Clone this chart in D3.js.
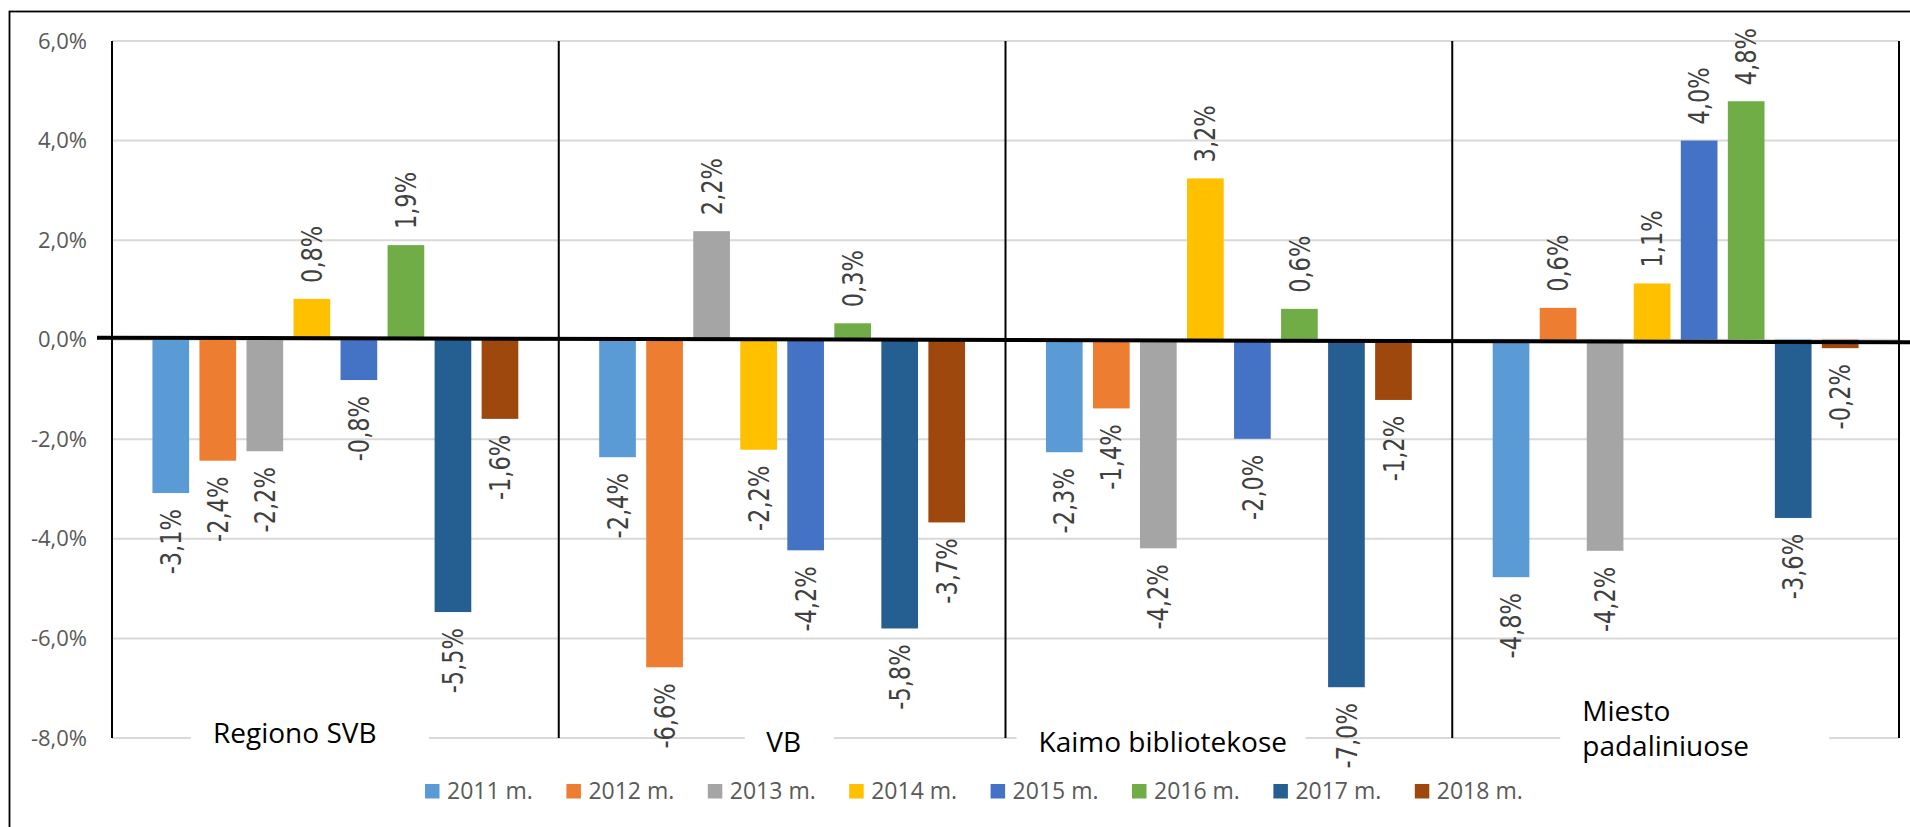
<!DOCTYPE html>
<html>
<head>
<meta charset="utf-8">
<script src="https://cdnjs.cloudflare.com/ajax/libs/d3/7.8.5/d3.min.js"></script>
<style>
  body { margin: 0; background: #fff; }
  svg { display: block; }
</style>
</head>
<body>
<div id="chart"></div>
<script>
// categories (groups on the x axis)
var categories = ["Regiono SVB", "VB", "Kaimo bibliotekose", "Miesto padaliniuose"];
var years = ["2011 m.", "2012 m.", "2013 m.", "2014 m.", "2015 m.", "2016 m.", "2017 m.", "2018 m."];

// one array per year, values in % for each category
var y2011 = [-3.08, -2.36, -2.26, -4.77];
var y2012 = [-2.43, -6.58, -1.38, 0.64];
var y2013 = [-2.24, 2.18, -4.19, -4.24];
var y2014 = [0.82, -2.21, 3.24, 1.13];
var y2015 = [-0.81, -4.23, -1.99, 4.00];
var y2016 = [1.90, 0.33, 0.62, 4.79];
var y2017 = [-5.47, -5.80, -6.98, -3.58];
var y2018 = [-1.59, -3.67, -1.21, -0.17];

var yTicks = [-8, -6, -4, -2, 0, 2, 4, 6];

var seriesValues = [y2011, y2012, y2013, y2014, y2015, y2016, y2017, y2018];
var colors = ["#5B9BD5", "#ED7D31", "#A5A5A5", "#FFC000", "#4472C4", "#70AD47", "#255E91", "#9E480E"];

// hand placed text boxes for the category names (offset from group start)
var catBoxes = [
  {bx: 79, bw: 238, tx: 101, ty: [743]},
  {bx: 186, bw: 89, tx: 207.5, ty: [752]},
  {bx: 11, bw: 289, tx: 33, ty: [752]},
  {bx: 108, bw: 269, tx: 130, ty: [721, 756]}
];

var W = 1910, H = 827;
// NB: "top" is taken by window.top, so prefix everything
var plotL = 112, plotR = 1899, plotT = 41, plotB = 738;

var svg = d3.select("#chart").append("svg")
  .attr("width", W).attr("height", H);

var fmt = function(v) { return v.toFixed(1).replace(".", ",") + "%"; };

var y = d3.scaleLinear().domain([-8, 6]).range([plotB, plotT]);
var x0 = d3.scaleBand().domain(categories).range([plotL, plotR]).padding(0);
var x1 = d3.scaleBand().domain(years).range([0, x0.bandwidth()])
  .paddingInner(0.22).paddingOuter(0.86);

// outer frame
svg.append("rect")
  .attr("x", 9.5).attr("y", 11.5)
  .attr("width", 1940).attr("height", 900)
  .attr("fill", "none").attr("stroke", "#000").attr("stroke-width", 1.8);

// gridlines
svg.append("g").selectAll("line")
  .data(yTicks)
  .enter().append("line")
  .attr("x1", plotL).attr("x2", plotR)
  .attr("y1", function(d) { return y(d); })
  .attr("y2", function(d) { return y(d); })
  .attr("stroke", "#d9d9d9").attr("stroke-width", 2);

// y axis labels
var yAxis = d3.axisLeft(y).tickValues(yTicks).tickSize(0).tickPadding(25).tickFormat(fmt);
var ga = svg.append("g").attr("transform", "translate(" + plotL + ",0)").call(yAxis);
ga.select(".domain").remove();
ga.selectAll("text")
  .attr("font-family", "'Open Sans', sans-serif")
  .attr("font-size", 22)
  .attr("fill", "#595959");

// group separators
svg.append("g").selectAll("line")
  .data(categories.concat(["__end"]))
  .enter().append("line")
  .attr("x1", function(d) { return d == "__end" ? plotR : x0(d); })
  .attr("x2", function(d) { return d == "__end" ? plotR : x0(d); })
  .attr("y1", plotT).attr("y2", plotB)
  .attr("stroke", "#000").attr("stroke-width", 2);

// bars
var rows = [];
categories.forEach(function(c, ci) {
  years.forEach(function(yr, si) {
    rows.push({cat: c, year: yr, si: si, v: seriesValues[si][ci]});
  });
});

var g = svg.append("g");
g.selectAll("rect")
  .data(rows)
  .enter().append("rect")
  .attr("x", function(d) { return x0(d.cat) + x1(d.year); })
  .attr("width", x1.bandwidth())
  .attr("y", function(d) { return y(Math.max(0, d.v)); })
  .attr("height", function(d) { return Math.abs(y(d.v) - y(0)); })
  .attr("fill", function(d) { return colors[d.si]; });

// rotated value labels
g.selectAll("text")
  .data(rows)
  .enter().append("text")
  .attr("transform", function(d) {
    var cx = x0(d.cat) + x1(d.year) + x1.bandwidth() / 2;
    var yy = d.v >= 0 ? y(d.v) - 16 : y(d.v) + 16;
    return "translate(" + cx + "," + yy + ") rotate(-90) scale(1,1.25)";
  })
  .attr("text-anchor", function(d) { return d.v >= 0 ? "start" : "end"; })
  .attr("dy", "0.36em")
  .attr("font-family", "'DejaVu Sans', sans-serif")
  .attr("font-size", 22.5)
  .attr("fill", "#404040")
  .text(function(d) { return fmt(d.v); });

// the thick hand drawn zero line (slightly tilted in the original)
svg.append("line")
  .attr("x1", 97).attr("y1", y(0) - 2)
  .attr("x2", W).attr("y2", y(0) + 2.5)
  .attr("stroke", "#000").attr("stroke-width", 4);

// category text boxes
var cl = svg.append("g");
categories.forEach(function(c, i) {
  var b = catBoxes[i], gx = x0(c);
  cl.append("rect")
    .attr("x", gx + b.bx).attr("y", plotB - 8)
    .attr("width", b.bw).attr("height", 16)
    .attr("fill", "#fff");
  var lines = b.ty.length > 1 ? c.split(" ") : [c];
  lines.forEach(function(t, li) {
    cl.append("text")
      .attr("x", gx + b.tx).attr("y", b.ty[li])
      .attr("font-family", "'Open Sans', sans-serif")
      .attr("font-size", 28)
      .attr("fill", "#000")
      .text(t);
  });
});

// legend
var lg = svg.append("g").selectAll("g")
  .data(years)
  .enter().append("g")
  .attr("transform", function(d, i) { return "translate(" + (425 + i * 141.4) + ",784)"; });
lg.append("rect")
  .attr("width", 14.5).attr("height", 14.5)
  .attr("fill", function(d, i) { return colors[i]; });
lg.append("text")
  .attr("x", 22).attr("y", 15)
  .attr("font-family", "'Open Sans', sans-serif")
  .attr("font-size", 23)
  .attr("fill", "#595959")
  .text(function(d) { return d; });
</script>
</body>
</html>
